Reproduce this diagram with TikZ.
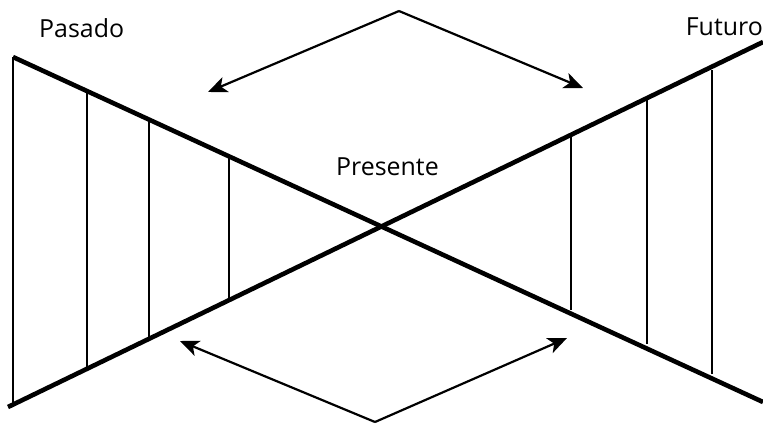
\documentclass[tikz,border=0pt]{standalone}
\usepackage{fontspec}
\setmainfont{Open Sans}
\usetikzlibrary{arrows.meta}
\begin{document}
\begin{tikzpicture}[x=1bp,y=-1bp,
		thickline/.style={line width=4.6bp},
		thinline/.style={line width=1.8bp},
		pointer/.style={line width=2.2bp, -{Stealth[length=19bp,width=16bp,inset=5bp]}},
		word/.style={font=\fontsize{25}{28}\selectfont, inner sep=0pt, anchor=base west}]
	\useasboundingbox (0,0) rectangle (763,425);
	% the two lines of the bow tie
	\coordinate (TL) at (13,57);
	\coordinate (BR) at (763,402);
	\coordinate (BL) at (8,407);
	\coordinate (TR) at (763,42);
	\draw[thickline] (TL) -- (BR);
	\draw[thickline] (BL) -- (TR);
	% vertical strokes, x / top / bottom
	\foreach \x/\t/\b in {13/57/405, 87/91/369, 149/121/339, 229/157/299, 571/136/310, 647/100/344, 712/70/374}
		\draw[thinline] (\x,\t) -- (\x,\b);
	% labels
	\node[word] (pasado) at (39,37) {Pasado};
	\node[word, anchor=base east] (futuro) at (763,35) {Futuro};
	\node[word] (presente) at (336,175) {Presente};
	% arrows
	\coordinate (up) at (399,11);
	\coordinate (down) at (375,422);
	\draw[pointer] (up) -- (208,92);
	\draw[pointer] (up) -- (583,88);
	\draw[pointer] (down) -- (180,341);
	\draw[pointer] (down) -- (567,338);
\end{tikzpicture}
\end{document}
